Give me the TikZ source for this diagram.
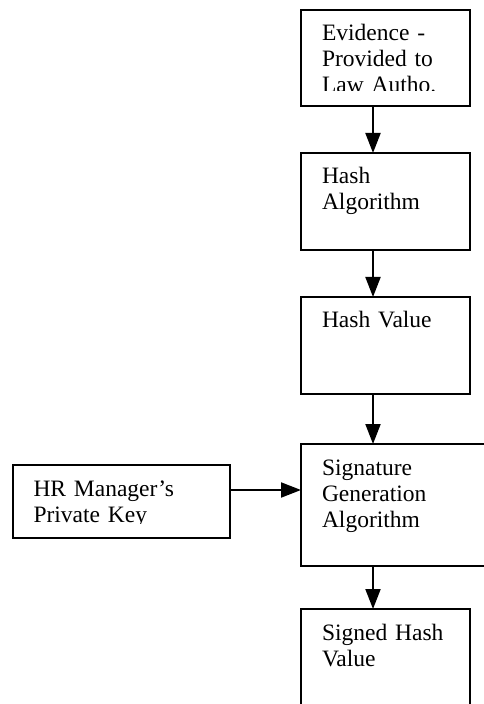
\documentclass[tikz,border=0pt]{standalone}
\usepackage{fontspec}
\setmainfont{Liberation Serif}
\usetikzlibrary{arrows.meta}

\begin{document}
\begin{tikzpicture}[x=0.5pt, y=-0.5pt,
	stage/.style={draw, line width=1pt, anchor=north west, outer sep=0pt,
		align=left, text width=63.5pt, inner xsep=10.5pt, inner ysep=7.5pt,
		text height=8pt, text depth=#1,
		font=\fontsize{11.75pt}{13pt}\selectfont},
	flow/.style={line width=1pt, -{Triangle[length=10pt,width=7.5pt]}}]
	\useasboundingbox (0,0) rectangle (483,704);
	\coordinate (spine) at (373,0);
	\coordinate (keyline) at (0,490);

	\begin{scope}
		\clip (301,10) rectangle (470,90.5);
		\node [stage=25pt, draw=none] (ev) at (301,10) {Evidence -\\Provided to\\Law Autho.};
	\end{scope}
	\draw [line width=1pt] (ev.north west) rectangle (ev.south east);
	\node [stage=25.5pt] (alg) at (301,153) {Hash\\Algorithm};
	\node [stage=25.5pt] (val) at (301,297) {Hash Value};
	\node [stage=38pt, text width=79pt] (sig) at (301,444) {Signature\\Generation\\Algorithm};
	\begin{scope}
		\clip (12.5,465) rectangle (230,523);
		\node [stage=13.5pt, draw=none, text width=87.75pt] (hr) at (12.5,465) {HR Manager’s\\Private Key};
	\end{scope}
	\draw [line width=1pt] (hr.north west) rectangle (hr.south east);
	\node [stage=32.5pt] (sgn) at (301,609) {Signed Hash\\Value};

	\draw [flow]
	  (ev.south -| spine) to
	  (alg.north -| spine);
	\draw [flow]
	  (alg.south -| spine) to
	  (val.north -| spine);
	\draw [flow]
	  (val.south -| spine) to
	  (sig.north -| spine);
	\draw [flow]
	  (sig.south -| spine) to
	  (sgn.north -| spine);
	\draw [flow]
	  (hr.east |- keyline) to
	  (sig.west |- keyline);
\end{tikzpicture}
\end{document}
